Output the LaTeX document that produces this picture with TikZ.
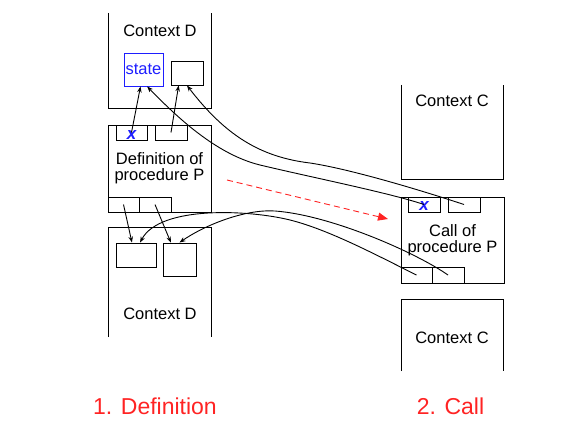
\documentclass[tikz,border=0pt]{standalone}
\usepackage{fontspec}
\setmainfont{Liberation Sans}
\usetikzlibrary{arrows.meta}
\definecolor{labelred}{RGB}{255,35,35}
\definecolor{varblue}{RGB}{30,30,255}
\begin{document}
\begin{tikzpicture}[x=1pt, y=-1pt, line width=0.9pt,
    font=\fontsize{16.5}{16}\selectfont,
    slot/.style={draw, minimum width=#1, minimum height=15, inner sep=0pt},
    slot/.default=32,
    cell/.style 2 args={draw, minimum width=#1, minimum height=#2, inner sep=0pt},
    xmark/.style={text=varblue, font=\fontsize{17}{17}\selectfont\bfseries\itshape, inner sep=0pt},
    ref/.style={-{Stealth[length=6pt, width=4.5pt]}},
    steplabel/.style={text=labelred, font=\fontsize{23}{23}\selectfont}]
  \useasboundingbox (0,0) rectangle (581,436);
  % Context D, upper part
  \draw (108,13) -- (108,108) -- (211,108) -- (211,13);
  \node (ctxDtop) at (160,31) {Context D};
  \node[cell={39}{33}, draw=varblue, text=varblue] (state) at (143.5,69.5) {state};
  \node[cell={32}{24}] (dslot) at (187,73) {};
  % Definition of procedure P
  \node[cell={103}{87}, align=center] (defbox) at (159.5,168.5) {Definition of\\procedure P};
  \node[slot=31] (defx) at (131.5,132.5) {};
  \node[slot] (defy) at (171,132.5) {};
  \node[slot=31] (defa) at (123.5,204.5) {};
  \node[slot] (defb) at (155,204.5) {};
  \node[xmark] (defxmark) at ([yshift=-2.5pt]defx.center) {x};
  % Context D, lower part
  \draw (108,337) -- (108,227) -- (211,227) -- (211,337);
  \node (ctxDbot) at (160,314) {Context D};
  \node[cell={40}{24}] (dA) at (136,255) {};
  \node[cell={33}{33}] (dB) at (179.5,259.5) {};
  % Context C, upper part
  \draw (401,85) -- (401,179) -- (503,179) -- (503,85);
  \node (ctxCtop) at (452,101) {Context C};
  % Call of procedure P
  \node[cell={103}{86}, align=center, font=\fontsize{16.5}{15.5}\selectfont] (callbox) at (452.5,240) {Call of\\procedure P};
  \node[slot] (cx) at (424,204.5) {};
  \node[slot] (cy) at (464,204.5) {};
  \node[slot=31, minimum height=16] (ca) at (416.5,275) {};
  \node[slot, minimum height=16] (cb) at (448,275) {};
  \node[xmark] (callxmark) at ([yshift=-2pt]cx.center) {x};
  % Context C, lower part
  \draw (401,371) -- (401,299) -- (503,299) -- (503,371);
  \node (ctxCbot) at (452,337.5) {Context C};
  % references
  \draw[ref] (defx.center) -- (state.260);
  \draw[ref] (defy.center) -- (dslot.236);
  \draw[ref] (cy.center) .. controls (420,190) and (350,169) .. (310,163)
    .. controls (260,157) and (225,135) .. (dslot.south);
  \draw[ref] (cx.center) .. controls (390,193) and (310,177) .. (260,165)
    .. controls (215,154) and (175,115) .. (state.282);
  \draw[ref] (defa.center) -- (dA.108);
  \draw[ref] (defb.center) -- (dB.117);
  \draw[ref] (ca.center) .. controls (380,257) and (330,230) .. (290,220)
    .. controls (250,210) and (160,205) .. (dA.72);
  \draw[ref] (cb.center) .. controls (415,252) and (330,215) .. (275,211)
    .. controls (245,209) and (205,225) .. (dB.north);
  % move from definition to call
  \coordinate (movefrom) at (227,180);
  \coordinate (moveto) at (388,219);
  \draw[labelred, dash pattern=on 6pt off 4pt, -{Triangle[length=10pt, width=8pt]}] (movefrom) -- (moveto);
  % step labels
  \node[steplabel] (deflabel) at (155,406.5) {1. Definition};
  \node[steplabel] (calllabel) at (450.5,406) {2. Call};
\end{tikzpicture}
\end{document}
